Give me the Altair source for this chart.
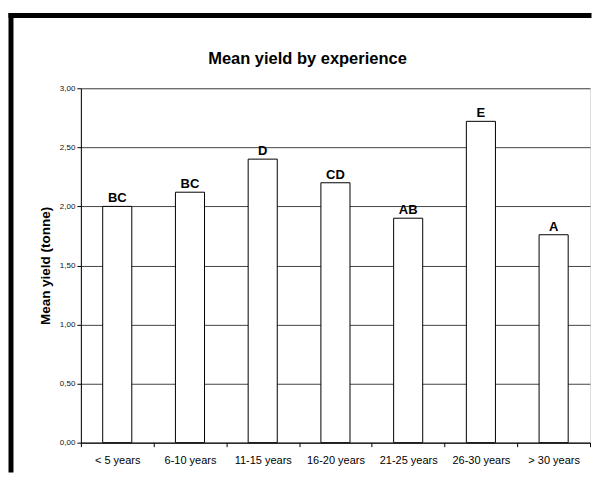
import altair as alt
import pandas as pd

categories = ["< 5 years", "6-10 years", "11-15 years", "16-20 years",
              "21-25 years", "26-30 years", "> 30 years"]
mean_yield = [2.00, 2.12, 2.40, 2.20, 1.90, 2.72, 1.76]
groups = ["BC", "BC", "D", "CD", "AB", "E", "A"]
y_ticks = [0, 0.5, 1.0, 1.5, 2.0, 2.5, 3.0]
chart_title = "Mean yield by experience"

df = pd.DataFrame({"cat": categories, "val": mean_yield, "grp": groups})

W, H = 510, 355
FONT = "Liberation Sans"

x_enc = alt.X("cat:N", sort=categories,
              scale=alt.Scale(paddingInner=0, paddingOuter=0),
              axis=alt.Axis(title=None, labelAngle=0, tickBand="extent",
                            labelFontSize=11, labelFont=FONT, labelColor="#000",
                            labelPadding=8, tickSize=4, tickColor="#000",
                            domainColor="#000", grid=False))
y_enc = alt.Y("val:Q", scale=alt.Scale(domain=[0, 3], nice=False),
              axis=alt.Axis(title="Mean yield (tonne)", values=y_ticks,
                            labelExpr="replace(format(datum.value, '.2f'), '.', ',')",
                            labelFontSize=8, labelFont=FONT, labelColor="#111",
                            labelPadding=2, tickSize=4, tickColor="#000",
                            domainColor="#000", grid=True, gridColor="#444",
                            gridWidth=1, titleFontSize=13.5, titleFont=FONT,
                            titleFontWeight="bold", titleColor="#000",
                            titleX=-35, titleY=H / 2, titleAngle=-90,
                            titleBaseline="middle", titleAlign="center"))

bars = alt.Chart(df).mark_bar(fill="white", stroke="#000", strokeWidth=1,
                              width=alt.RelativeBandSize(0.4)).encode(
    x=x_enc, y=y_enc)

labels = alt.Chart(df).mark_text(font=FONT, fontSize=13, fontWeight="bold",
                                 baseline="alphabetic", dy=-4, color="#000").encode(
    x=alt.X("cat:N", sort=categories), y=alt.Y("val:Q"), text="grp:N")

frame_data = alt.Data(values=[{"t": chart_title}])
frame_top = alt.Chart(frame_data).mark_rect(color="#000").encode(
    x=alt.value(-72.5), x2=alt.value(511.5), y=alt.value(-75.5), y2=alt.value(-70.5))
frame_left = alt.Chart(frame_data).mark_rect(color="#000").encode(
    x=alt.value(-72.5), x2=alt.value(-67.5), y=alt.value(-75.5), y2=alt.value(385))
title_text = alt.Chart(frame_data).mark_text(
    font=FONT, fontSize=16.5, fontWeight="bold", color="#000",
    align="center", baseline="alphabetic").encode(
    x=alt.value(227), y=alt.value(-24), text="t:N")

chart = alt.layer(frame_top, frame_left, title_text, bars, labels).properties(
    width=W, height=H,
    padding={"left": 0, "top": 4, "right": 0, "bottom": 0},
).configure_view(stroke="#888", strokeWidth=1).configure(background="white")

chart.save("out.html", embed_options={"renderer": "svg", "actions": False})
